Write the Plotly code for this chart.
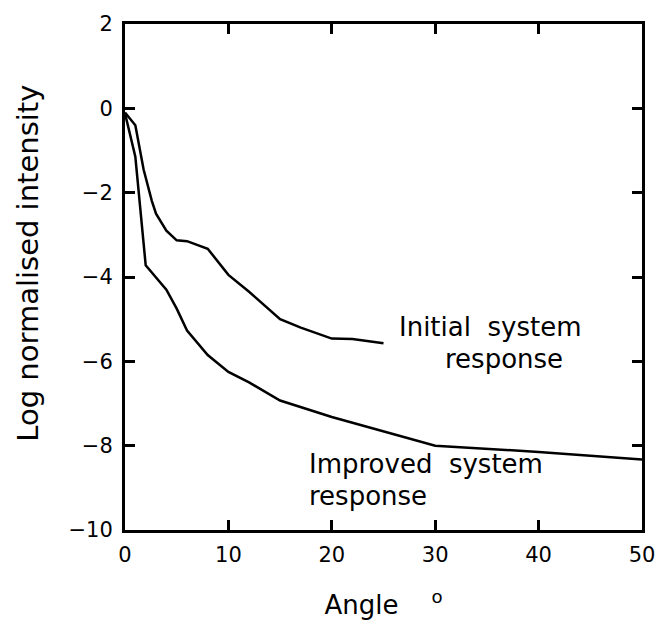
import plotly.graph_objects as go

# Data
initial_angle = [0, 1, 1.8, 2.6, 3, 4, 5, 6, 8, 10, 12, 15, 17, 20, 22, 25]
initial_logI = [-0.1, -0.4, -1.45, -2.2, -2.5, -2.9, -3.13, -3.15, -3.33, -3.95, -4.35, -5.0, -5.2, -5.46, -5.47, -5.57]

improved_angle = [0, 1, 2, 4, 5, 6, 8, 10, 12, 15, 20, 30, 40, 50]
improved_logI = [-0.12, -1.15, -3.72, -4.3, -4.75, -5.27, -5.85, -6.25, -6.5, -6.93, -7.32, -8.0, -8.15, -8.33]

x_ticks = [0, 10, 20, 30, 40, 50]
y_ticks = [-10, -8, -6, -4, -2, 0, 2]

FONT = "DejaVu Sans"
line_style = dict(color="black", width=2.5)

fig = go.Figure()
fig.add_trace(go.Scatter(x=initial_angle, y=initial_logI, mode="lines",
                         line=line_style, name="Initial system response"))
fig.add_trace(go.Scatter(x=improved_angle, y=improved_logI, mode="lines",
                         line=line_style, name="Improved system response"))

ann_font = dict(family=FONT, size=26, color="black")
labels = [
    ("Initial&nbsp; system", 26.3, -5.18),
    ("response", 30.8, -5.94),
    ("Improved&nbsp; system", 17.6, -8.43),
    ("response", 17.6, -9.19),
]
for txt, xx, yy in labels:
    fig.add_annotation(x=xx, y=yy, text=txt, showarrow=False, xanchor="left",
                       yanchor="middle", font=ann_font)

# y-axis title placed as a rotated annotation
fig.add_annotation(x=-0.187, y=0.527, xref="paper", yref="paper",
                   text="Log normalised intensity", textangle=-90, showarrow=False,
                   xanchor="center", yanchor="middle",
                   font=dict(family=FONT, size=29, color="black"))

axis_common = dict(
    showgrid=False, zeroline=False, showline=True, linecolor="black",
    linewidth=3, mirror="ticks", ticks="inside", ticklen=10, tickwidth=2.5,
    tickcolor="black", tickfont=dict(family=FONT, size=21, color="black"),
)

fig.update_layout(
    width=667, height=627,
    margin=dict(l=125, r=23, t=16, b=95),
    paper_bgcolor="white", plot_bgcolor="white",
    showlegend=False,
    xaxis=dict(range=[0, 50], tickvals=x_ticks, ticktext=[str(v) for v in x_ticks],
               ticklabelstandoff=4,
               title=dict(text="Angle&nbsp;&nbsp;&nbsp; <sup>o</sup>",
                          font=dict(family=FONT, size=26, color="black"), standoff=30),
               **axis_common),
    yaxis=dict(range=[-10, 2], tickvals=y_ticks,
               ticktext=[("\u2212" + str(-v)) if v < 0 else str(v) for v in y_ticks],
               ticklabelstandoff=5,
               **axis_common),
)

fig.write_html("out.html")
